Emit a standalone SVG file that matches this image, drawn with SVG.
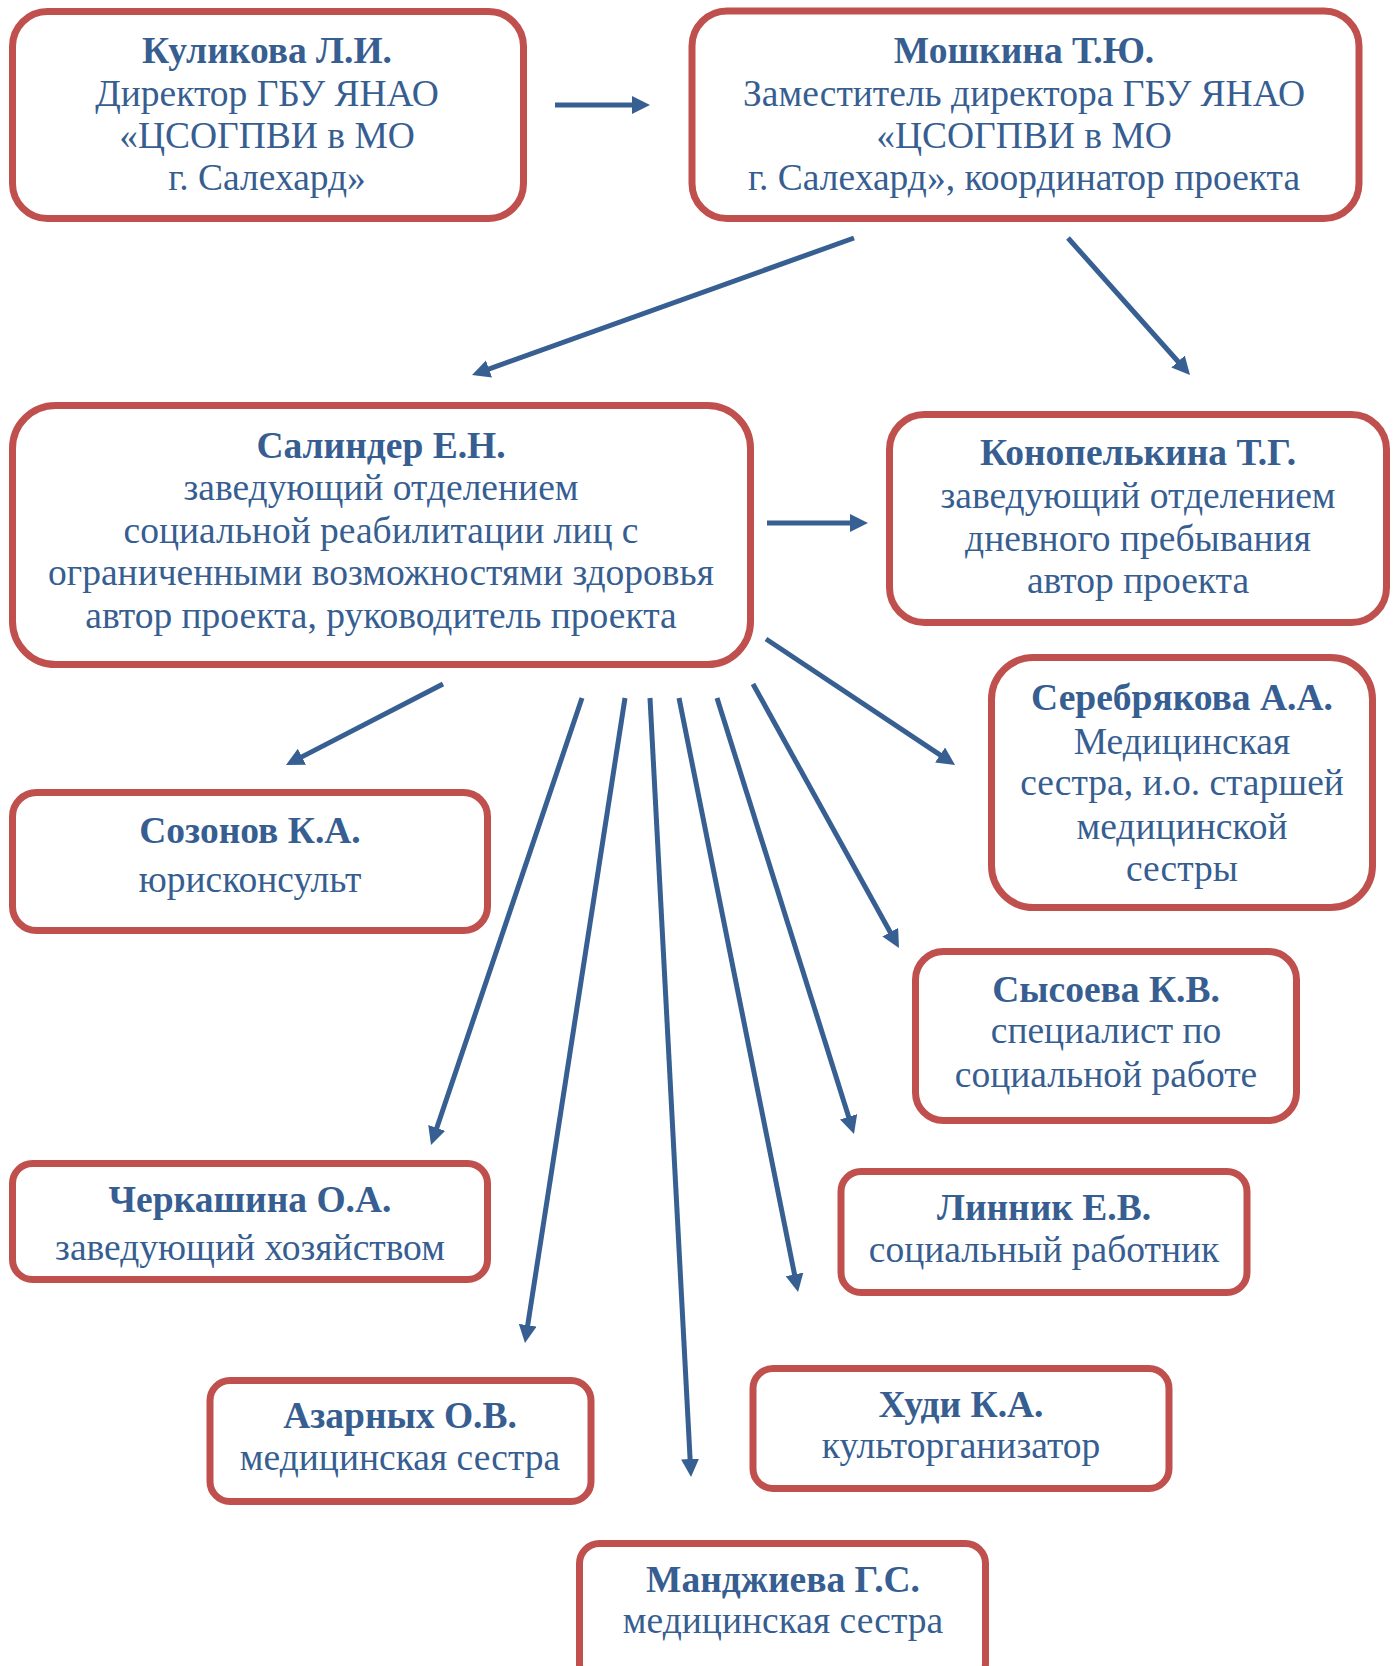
<svg xmlns="http://www.w3.org/2000/svg" width="1395" height="1666" viewBox="0 0 1395 1666">
<style>
.box{fill:#FFFFFF;stroke:#C0504D;stroke-width:7}
text{font-family:"Liberation Serif","Times New Roman",serif;font-size:37.5px;fill:#365E91;text-anchor:middle}
.b{font-weight:bold}
.c{stroke:#375F92;stroke-width:5;fill:none;marker-end:url(#ah)}
</style>
<defs>
<marker id="ah" markerUnits="userSpaceOnUse" markerWidth="20" markerHeight="20" refX="4" refY="9" orient="auto">
<path d="M0,0 L18,9 L0,18 Z" fill="#375F92"/>
</marker>
</defs>
<rect width="1395" height="1666" fill="#FFFFFF"/>
<g id="connectors">
<line class="c" x1="555" y1="105" x2="636" y2="105"/>
<line class="c" x1="854" y1="238" x2="485.2" y2="370.3"/>
<line class="c" x1="1068" y1="238" x2="1180.7" y2="364.5"/>
<line class="c" x1="767" y1="523" x2="854" y2="523"/>
<line class="c" x1="766" y1="639" x2="943.4" y2="757.2"/>
<line class="c" x1="443" y1="684" x2="298.4" y2="758.6"/>
<line class="c" x1="582" y1="698" x2="435.5" y2="1131.7"/>
<line class="c" x1="625" y1="698" x2="527.1" y2="1329.2"/>
<line class="c" x1="650" y1="698" x2="690.3" y2="1463"/>
<line class="c" x1="679" y1="698" x2="795.3" y2="1278.3"/>
<line class="c" x1="717" y1="698" x2="849.8" y2="1120.6"/>
<line class="c" x1="753" y1="684" x2="892.2" y2="935.7"/>
</g>
<g id="kulikova">
<rect class="box" x="12.5" y="11.5" width="511" height="207" rx="35"/>
<text x="267" y="63" class="b">Куликова Л.И.</text>
<text x="267" y="106">Директор ГБУ ЯНАО</text>
<text x="267" y="148">«ЦСОГПВИ в МО</text>
<text x="267" y="190">г. Салехард»</text>
</g>
<g id="moshkina">
<rect class="box" x="692" y="11" width="667" height="207.5" rx="35"/>
<text x="1024" y="63" class="b">Мошкина Т.Ю.</text>
<text x="1024" y="106">Заместитель директора ГБУ ЯНАО</text>
<text x="1024" y="148">«ЦСОГПВИ в МО</text>
<text x="1024" y="190">г. Салехард», координатор проекта</text>
</g>
<g id="salinder">
<rect class="box" x="12.5" y="405.5" width="738" height="259" rx="43"/>
<text x="381" y="458" class="b">Салиндер Е.Н.</text>
<text x="381" y="500">заведующий отделением</text>
<text x="381" y="543">социальной реабилитации лиц с</text>
<text x="381" y="585">ограниченными возможностями здоровья</text>
<text x="381" y="628">автор проекта, руководитель проекта</text>
</g>
<g id="konopelkina">
<rect class="box" x="889.5" y="414.5" width="497" height="208" rx="35"/>
<text x="1138" y="465" class="b">Конопелькина Т.Г.</text>
<text x="1138" y="508">заведующий отделением</text>
<text x="1138" y="551">дневного пребывания</text>
<text x="1138" y="593">автор проекта</text>
</g>
<g id="serebryakova">
<rect class="box" x="991.5" y="657.5" width="381" height="250" rx="42"/>
<text x="1182" y="710" class="b">Серебрякова А.А.</text>
<text x="1182" y="754">Медицинская</text>
<text x="1182" y="795">сестра, и.о. старшей</text>
<text x="1182" y="839">медицинской</text>
<text x="1182" y="881">сестры</text>
</g>
<g id="sozonov">
<rect class="box" x="12.5" y="792.5" width="475" height="138" rx="24"/>
<text x="250" y="843" class="b">Созонов К.А.</text>
<text x="250" y="892">юрисконсульт</text>
</g>
<g id="sysoeva">
<rect class="box" x="915.5" y="951.5" width="381" height="169" rx="28"/>
<text x="1106" y="1002" class="b">Сысоева К.В.</text>
<text x="1106" y="1043">специалист по</text>
<text x="1106" y="1087">социальной работе</text>
</g>
<g id="cherkashina">
<rect class="box" x="12.5" y="1163.5" width="475" height="116" rx="20"/>
<text x="250" y="1212" class="b">Черкашина О.А.</text>
<text x="250" y="1260">заведующий хозяйством</text>
</g>
<g id="linnik">
<rect class="box" x="841" y="1171.5" width="406" height="121" rx="20"/>
<text x="1044" y="1220" class="b">Линник Е.В.</text>
<text x="1044" y="1262">социальный работник</text>
</g>
<g id="azarnykh">
<rect class="box" x="210" y="1380.5" width="381" height="121" rx="20"/>
<text x="400" y="1428" class="b">Азарных О.В.</text>
<text x="400" y="1470">медицинская сестра</text>
</g>
<g id="khudi">
<rect class="box" x="753" y="1368.5" width="416" height="120" rx="20"/>
<text x="961" y="1417" class="b">Худи К.А.</text>
<text x="961" y="1458">культорганизатор</text>
</g>
<g id="mandzhieva">
<rect class="box" x="579.5" y="1543.5" width="406" height="140" rx="20"/>
<text x="783" y="1592" class="b">Манджиева Г.С.</text>
<text x="783" y="1633">медицинская сестра</text>
</g>
</svg>
